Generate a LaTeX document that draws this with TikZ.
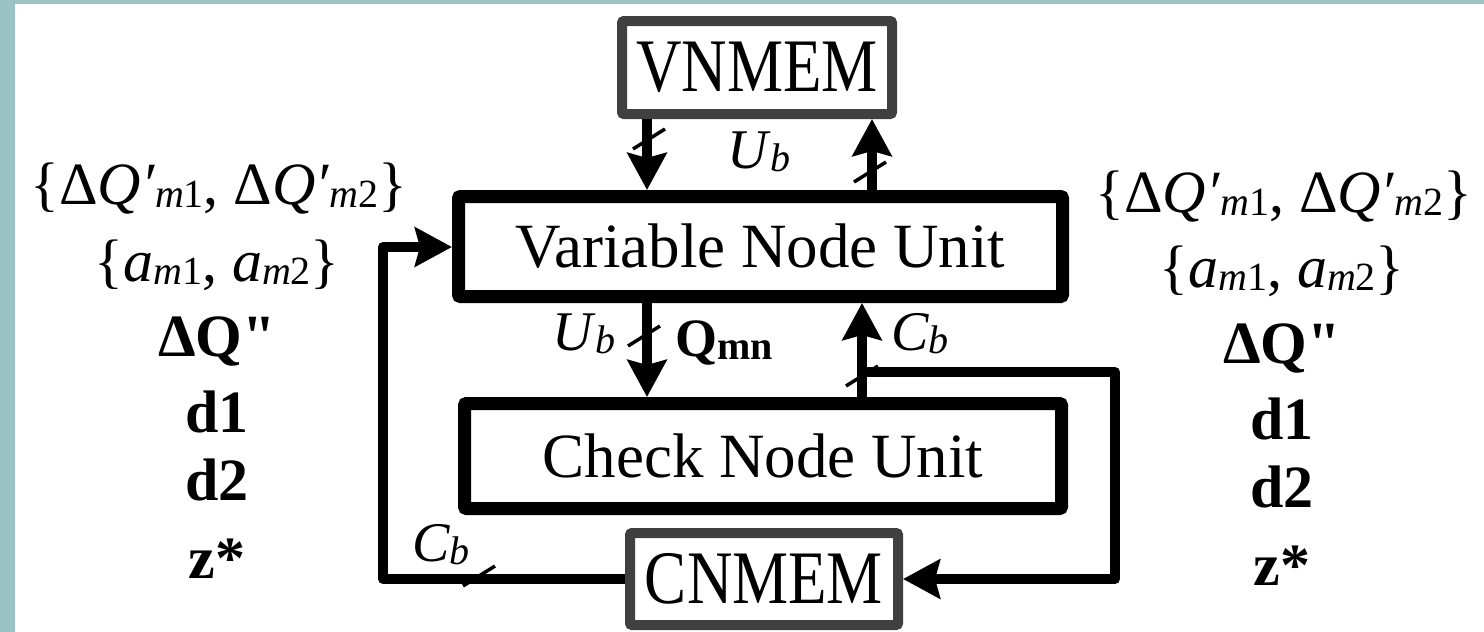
\documentclass[tikz,border=0pt]{standalone}
\usepackage{fontspec}
\setmainfont{Liberation Serif}
\usetikzlibrary{arrows.meta}

\newcommand\fsz[1]{\fontsize{#1}{#1}\selectfont}
% small lowered index used in the formulas
\newcommand\idx[1]{\raisebox{-3pt}{\fsz{40}#1}}
\newcommand\dqp{Δ\textit{Q′}}
% straight double quote, kept out of the TeX quote mapping
\newcommand\sdq{{\addfontfeatures{Ligatures=TeXOff}\symbol{"22}}}

\definecolor{frametint}{HTML}{9CC3C3}
\definecolor{memgray}{HTML}{404040}

\tikzset{
  unitbox/.style={draw=black, line width=13pt, rounded corners=2pt,
    minimum width=604pt, minimum height=100pt, inner sep=0pt, font=\fsz{63}},
  membox/.style={draw=memgray, line width=10pt, rounded corners=2pt,
    minimum width=270pt, minimum height=93pt, inner sep=0pt, font=\fsz{63}},
  flow/.style={line width=10pt, line join=round,
    -{Stealth[length=37pt, width=39pt, inset=5pt]}},
  lbl/.style={inner sep=0pt, font=\fsz{56}},
  col/.style={inner sep=0pt, anchor=base, font=\fsz{60}},
  pics/slashmark/.style={code={\draw[line width=3.5pt] (-16,10) -- (16,-10);}}
}

\begin{document}
\begin{tikzpicture}[x=1pt, y=-1pt]
\useasboundingbox (0,0) rectangle (1484,632);
\fill[frametint] (0,0) rectangle (1484,632);
\fill[white] (15,4) rectangle (1484,632);

% blocks
\node[membox] (vnmem) at (757,67.5) {\scalebox{1}[1.2]{VNMEM}};
\node[unitbox] (vnu) at (760.5,246.5) {Variable Node Unit};
\node[unitbox, minimum width=597pt, minimum height=105pt] (cnu) at (763,456) {Check Node Unit};
\node[membox, minimum width=268pt, minimum height=92pt] (cnmem) at (764,579) {\scalebox{1}[1.2]{CNMEM}};

% guide points of the wiring
\coordinate (xa) at (647,0);
\coordinate (xb) at (872,0);
\coordinate (xc) at (862,0);
\coordinate (br) at (862,372);
\coordinate (rtop) at (1115,372);
\coordinate (rbot) at (1115,579);
\coordinate (lbot) at (383,579);
\coordinate (ltop) at (383,247);

% memory <-> variable node unit
\draw[flow] (vnmem.south -| xa) -- (vnu.north -| xa);
\draw[flow] (vnu.north -| xb) -- (vnmem.south -| xb);
% variable node unit <-> check node unit
\draw[flow] (vnu.south -| xa) -- (cnu.north -| xa);
\draw[flow] (cnu.north -| xc) -- (vnu.south -| xc);
% check results to CNMEM and back to the variable node unit
\draw[flow] (br) -- (rtop) -- (rbot) -- (cnmem.east);
\draw[flow] (cnmem.west) -- (lbot) -- (ltop) -- (vnu.west |- ltop);

% bus width marks
\pic at (649,139) {slashmark};
\pic at (870,172) {slashmark};
\pic at (644,336) {slashmark};
\pic at (862,376) {slashmark};
\pic at (479,576) {slashmark};

% signal labels
\node[lbl] (ub1) at (759,152) {\textit{U}\idx{\textit{b}}};
\node[lbl] (ub2) at (584,334) {\textit{U}\idx{\textit{b}}};
\node[lbl, font=\bfseries\fsz{54}] (qmn) at (724,343) {Q\idx{\bfseries mn}};
\node[lbl] (cb1) at (920,334) {\textit{C}\idx{\textit{b}}};
\node[lbl] (cb2) at (441,545) {\textit{C}\idx{\textit{b}}};

% variables on the left
\node[col] (l1) at (219,204) {\{\dqp\idx{\textit{m}1}, \dqp\idx{\textit{m}2}\}};
\node[col] (l2) at (217,281) {\{\textit{a}\idx{\textit{m}1}, \textit{a}\idx{\textit{m}2}\}};
\node[col, font=\bfseries\fsz{60}] (l3) at (217,356) {ΔQ\sdq};
\node[col, font=\bfseries\fsz{60}] (l4) at (217,432) {d1};
\node[col, font=\bfseries\fsz{60}] (l5) at (217,500) {d2};
\node[col, font=\bfseries\fsz{60}] (l6) at (217,578) {z*};

% variables on the right
\node[col] (r1) at (1284,212) {\{\dqp\idx{\textit{m}1}, \dqp\idx{\textit{m}2}\}};
\node[col] (r2) at (1282,287) {\{\textit{a}\idx{\textit{m}1}, \textit{a}\idx{\textit{m}2}\}};
\node[col, font=\bfseries\fsz{60}] (r3) at (1282,363) {ΔQ\sdq};
\node[col, font=\bfseries\fsz{60}] (r4) at (1282,439) {d1};
\node[col, font=\bfseries\fsz{60}] (r5) at (1282,507) {d2};
\node[col, font=\bfseries\fsz{60}] (r6) at (1282,585) {z*};
\end{tikzpicture}
\end{document}
